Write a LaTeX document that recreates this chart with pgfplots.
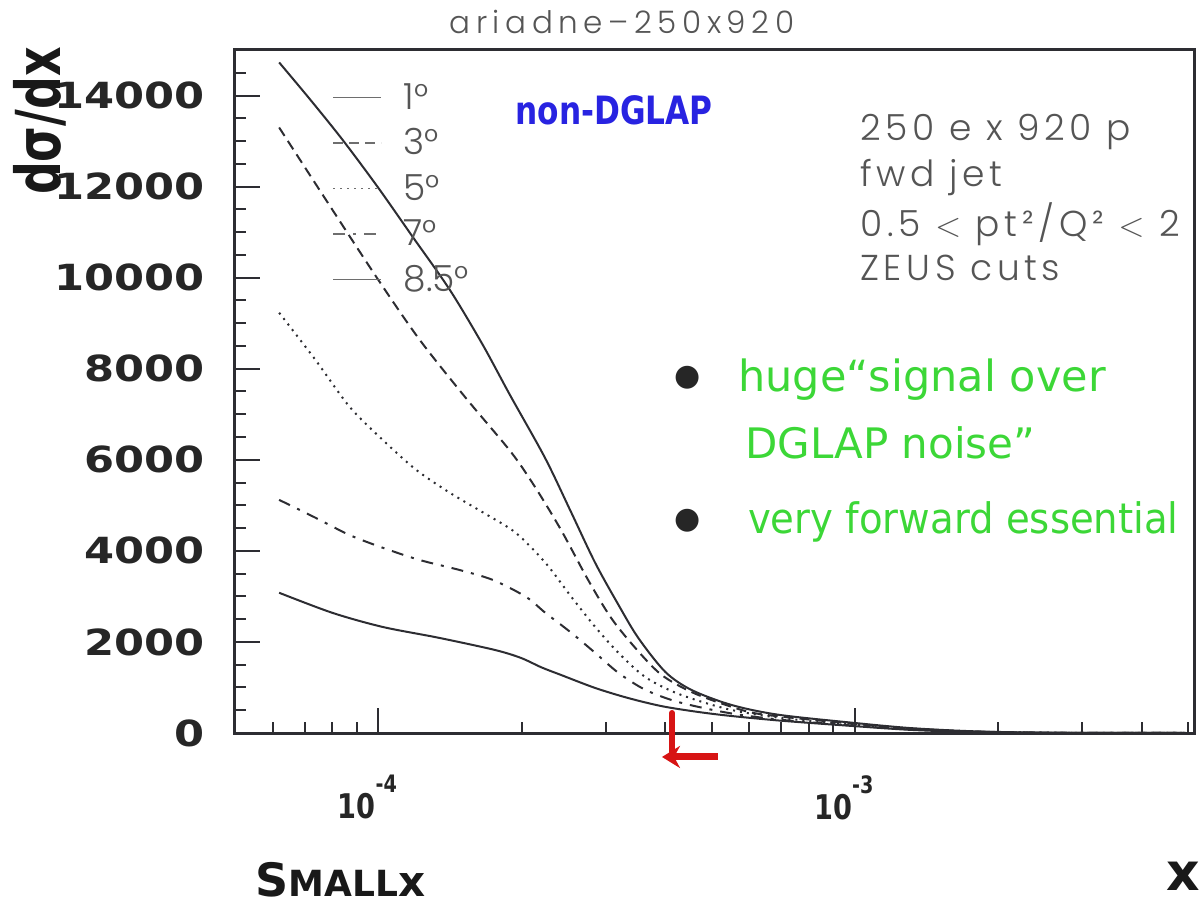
\documentclass[border=0pt]{standalone}
\usepackage{pgfplots}
\usepackage{pgfplotstable}
\pgfplotsset{compat=1.18}
\usetikzlibrary{arrows.meta}
\usepackage{fontspec}
\setmainfont{Poppins}[UprightFont=* Light]
\newfontfamily\widefont{Poppins}[UprightFont=* Light, LetterSpace=13]
\newfontfamily\titlefont{Poppins}[UprightFont=* Light, LetterSpace=18]
\newfontfamily\tickfont{DejaVu Sans}[FakeStretch=1.2]
\newfontfamily\ylabfont{DejaVu Sans}[FakeStretch=0.74]
\newfontfamily\narrowfont{DejaVu Sans}[FakeStretch=0.8]
\newfontfamily\handfont{DejaVu Sans}
\newfontfamily\handnarrow{DejaVu Sans}[FakeStretch=0.92]

\definecolor{axisc}{RGB}{45,45,50}
\definecolor{curvec}{RGB}{45,45,50}
\definecolor{txtgray}{RGB}{85,85,85}
\definecolor{legc}{RGB}{110,110,110}
\definecolor{penblue}{RGB}{40,35,225}
\definecolor{pengreen}{RGB}{60,215,55}
\definecolor{penred}{RGB}{215,20,20}

\newcommand{\xlab}[1]{{\narrowfont\bfseries\fontsize{17bp}{17bp}\selectfont 10\raisebox{13bp}{\fontsize{12bp}{12bp}\selectfont #1}}}

% d(sigma)/dx for the five forward-jet angle cuts
\pgfplotstableread{
x y
6.19e-5 14727
7.19e-5 13913
8.40e-5 13034
9.95e-5 12001
1.179e-4 10902
1.411e-4 9737
1.655e-4 8528
1.887e-4 7429
2.236e-4 6045
2.535e-4 4858
2.85e-4 3737
3.19e-4 2813
3.51e-4 2088
4.0e-4 1341
4.54e-4 945
5.51e-4 615
6.92e-4 400
1.0e-3 220
1.3e-3 110
1.7e-3 45
2.2e-3 15
3.0e-3 4
5.0e-3 0
}\cutone
\pgfplotstableread{
x y
6.19e-5 13298
8.0e-5 11496
1.005e-4 9913
1.22e-4 8638
1.524e-4 7363
1.896e-4 6176
2.13e-4 5407
2.416e-4 4462
2.754e-4 3363
3.078e-4 2528
3.46e-4 1868
3.93e-4 1275
4.63e-4 860
5.9e-4 480
7.0e-4 360
1.0e-3 200
1.3e-3 100
1.7e-3 40
2.2e-3 13
3.0e-3 3
5.0e-3 0
}\cutthree
\pgfplotstableread{
x y
6.19e-5 9230
7.37e-5 8200
8.69e-5 7170
1.02e-4 6440
1.20e-4 5780
1.41e-4 5280
1.66e-4 4840
1.94e-4 4400
2.24e-4 3740
2.54e-4 2990
2.85e-4 2330
3.19e-4 1760
3.63e-4 1230
4.26e-4 860
5.43e-4 520
7.0e-4 330
1.0e-3 180
1.3e-3 90
1.7e-3 35
2.2e-3 12
3.0e-3 3
5.0e-3 0
}\cutfive
\pgfplotstableread{
x y
6.19e-5 5120
7.37e-5 4730
8.69e-5 4350
1.02e-4 4070
1.22e-4 3800
1.48e-4 3580
1.74e-4 3360
2.04e-4 2990
2.24e-4 2640
2.54e-4 2200
2.85e-4 1760
3.19e-4 1320
3.63e-4 950
4.26e-4 680
5.43e-4 440
7.0e-4 290
1.0e-3 160
1.3e-3 80
1.7e-3 30
2.2e-3 10
3.0e-3 2
5.0e-3 0
}\cutseven
\pgfplotstableread{
x y
6.19e-5 3080
8.0e-5 2640
1.02e-4 2330
1.34e-4 2090
1.755e-4 1824
1.99e-4 1650
2.2e-4 1440
2.416e-4 1275
2.85e-4 989
3.34e-4 769
3.93e-4 590
4.63e-4 470
5.43e-4 380
7.0e-4 270
1.0e-3 150
1.3e-3 70
1.7e-3 25
2.2e-3 8
3.0e-3 2
5.0e-3 0
}\cuteightfive

\begin{document}
\begin{tikzpicture}
\begin{axis}[
  name=ax,
  scale only axis,
  width=480bp, height=341.5bp,
  xmode=log,
  xmin=5e-5, xmax=5.17e-3,
  ymin=0, ymax=15000,
  clip=false,
  scaled y ticks=false,
  axis line style={draw=axisc, line width=1.5bp},
  xtick={1e-4,1e-3},
  xticklabels={\xlab{-4},\xlab{-3}},
  minor xtick={5e-5,6e-5,7e-5,8e-5,9e-5,2e-4,3e-4,4e-4,5e-4,6e-4,7e-4,8e-4,9e-4,2e-3,3e-3,4e-3,5e-3},
  ytick={0,2000,...,14000},
  minor ytick={500,1000,...,14500},
  xtick pos=bottom, ytick pos=left,
  tick align=inside,
  major tick length=12.5bp, minor tick length=5.5bp,
  every tick/.style={draw=axisc, line width=1bp},
  /pgf/number format/1000 sep={},
  /pgf/number format/assume math mode=true,
  yticklabel style={font=\tickfont\bfseries\fontsize{18bp}{18bp}\selectfont, text=black!85, inner sep=0pt, anchor=east, xshift=-15bp},
  xticklabel style={anchor=north, inner sep=0pt, yshift=-21bp, xshift=-5.5bp, text=black!85},
  legend cell align=left,
  legend style={draw=none, fill=none, at={(axis description cs:0.101,0.9488)}, anchor=north west,
    inner sep=0pt, row sep=10.75bp, column sep=11bp,
    nodes={inner sep=0pt, text height=12bp, text depth=0bp, anchor=west},
    font=\fontsize{18bp}{18bp}\selectfont, text=txtgray},
  legend image code/.code={\draw[#1, draw=legc, line width=0.7bp] (0bp,0bp) -- (24bp,0bp);},
]
\addplot[curvec, line width=1bp, smooth] table {\cutone};
\addlegendentry{1°}
\addplot[curvec, line width=1bp, smooth, dash pattern=on 5bp off 3bp] table {\cutthree};
\addlegendentry{3°}
\addplot[curvec, line width=1bp, smooth, dash pattern=on 1bp off 2.5bp] table {\cutfive};
\addlegendentry{5°}
\addplot[curvec, line width=1bp, smooth, dash pattern=on 6bp off 4bp on 1.5bp off 4bp] table {\cutseven};
\addlegendentry{7°}
\addplot[curvec, line width=1bp, smooth] table {\cuteightfive};
\addlegendentry{8.5°}

% title and axis labels
\node[text=txtgray, font=\titlefont\fontsize{15.5bp}{15.5bp}\selectfont] at (axis description cs:0.4031,1.041) {ariadne–250x920};
\node[rotate=90, font=\ylabfont\bfseries\fontsize{31bp}{31bp}\selectfont, text=black!90] at (axis description cs:-0.2031,0.896) {dσ/dx};
\node[font=\handfont\bfseries\fontsize{26bp}{26bp}\selectfont, text=black!90] at (axis description cs:0.9875,-0.2094) {x};

% run conditions
\node[anchor=west, text=txtgray, font=\widefont\fontsize{18bp}{18bp}\selectfont, inner sep=0pt] at (axis description cs:0.651,0.880) {250 e x 920 p};
\node[anchor=west, text=txtgray, font=\widefont\fontsize{18bp}{18bp}\selectfont, inner sep=0pt] at (axis description cs:0.651,0.8126) {fwd jet};
\node[anchor=west, text=txtgray, font=\widefont\fontsize{18bp}{18bp}\selectfont, inner sep=0pt] at (axis description cs:0.651,0.7453) {0.5 $<$ pt²/Q² $<$ 2};
\node[anchor=west, text=txtgray, font=\widefont\fontsize{18bp}{18bp}\selectfont, inner sep=0pt] at (axis description cs:0.651,0.6808) {ZEUS cuts};

% pen notes
\node[anchor=west, inner sep=0pt, text=penblue, font=\narrowfont\bfseries\fontsize{19.5bp}{19.5bp}\selectfont] at (axis description cs:0.2917,0.912) {non-DGLAP};
\node[inner sep=0pt, text=black!85, font=\handfont\fontsize{15bp}{15bp}\selectfont] at (axis description cs:0.4719,0.5198) {●};
\node[inner sep=0pt, text=black!85, font=\handfont\fontsize{15bp}{15bp}\selectfont] at (axis description cs:0.4719,0.3104) {●};
\node[anchor=west, inner sep=0pt, text=pengreen, font=\handfont\fontsize{21.5bp}{21.5bp}\selectfont] at (axis description cs:0.524,0.5168) {huge“signal over};
\node[anchor=west, inner sep=0pt, text=pengreen, font=\handfont\fontsize{21bp}{21bp}\selectfont] at (axis description cs:0.531,0.4246) {DGLAP noise”};
\node[anchor=west, inner sep=0pt, text=pengreen, font=\handnarrow\fontsize{21bp}{21bp}\selectfont] at (axis description cs:0.534,0.3089) {very forward essential};
\node[anchor=west, inner sep=0pt, text=black!90, font=\handfont\bfseries] at (axis description cs:0.0208,-0.215)
  {{\fontsize{23bp}{23bp}\selectfont S}{\fontsize{18bp}{18bp}\selectfont MALL}{\fontsize{21bp}{21bp}\selectfont x}};
\draw[penred, line width=3bp, line cap=round] (axis description cs:0.4552,0.0293) -- (axis description cs:0.4552,-0.028);
\draw[penred, line width=3.5bp, -{Stealth[length=9bp,width=11bp]}] (axis description cs:0.503,-0.0351) -- (axis description cs:0.4448,-0.0351);
\end{axis}
\pgfresetboundingbox
\path ([shift={(-117.5bp,-87bp)}]ax.south west) rectangle ([shift={(4bp,25bp)}]ax.north east);
\end{tikzpicture}
\end{document}
